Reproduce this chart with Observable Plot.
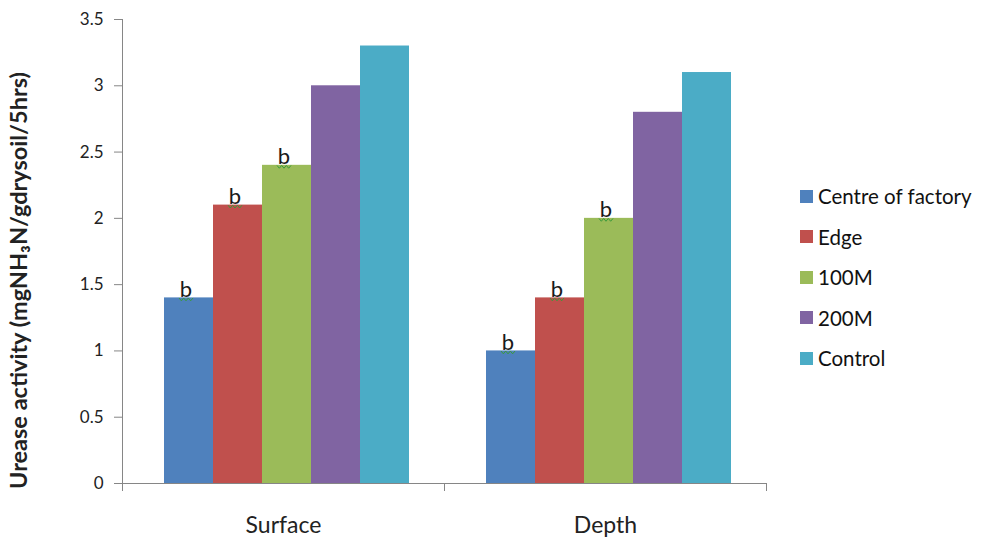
<!DOCTYPE html>
<html>
<head>
<meta charset="utf-8">
<script src="https://cdn.jsdelivr.net/npm/d3@7"></script>
<script src="https://cdn.jsdelivr.net/npm/@observablehq/plot@0.6"></script>
<style>
  body { margin: 0; background: #fff; font-family: Lato, sans-serif; }
  #wrap { position: relative; width: 981px; height: 540px; }
  #legend { position: absolute; left: 800px; top: 176px; font-size: 20.5px; color: #111; }
  #legend .item { height: 40.5px; display: flex; align-items: center; white-space: nowrap; }
  #legend .sw { width: 13px; height: 13px; margin-right: 5px; }
  g[aria-label="y-axis label"] { font-weight: bold; font-size: 23.5px; }
</style>
</head>
<body>
<div id="wrap"><div id="legend"></div></div>
<script>
const groups = ["Surface", "Depth"];
const series = ["Centre of factory", "Edge", "100M", "200M", "Control"];
const surfaceValues = [1.4, 2.1, 2.4, 3.0, 3.3];
const depthValues = [1.0, 1.4, 2.0, 2.8, 3.1];
const surfaceLetters = ["b", "b", "b", "", ""];
const depthLetters = ["b", "b", "b", "", ""];
const colors = ["#4F81BD", "#C0504D", "#9BBB59", "#8064A2", "#4BACC6"];
const yTicks = [0, 0.5, 1, 1.5, 2, 2.5, 3, 3.5];
const yLabel = "Urease activity (mgNH₃N/gdrysoil/5hrs)";

const table = [];
series.forEach((s, i) => table.push({group: "Surface", series: s, value: surfaceValues[i], letter: surfaceLetters[i]}));
series.forEach((s, i) => table.push({group: "Depth", series: s, value: depthValues[i], letter: depthLetters[i]}));
const lettered = table.filter(d => d.letter);

const axisGray = "#868686";

// small wavy "spell-check" squiggle drawn as a custom dot symbol
const squiggle = {
  draw(context, size) {
    const r = Math.sqrt(size / Math.PI);
    const n = 6, a = r * 0.2;
    context.moveTo(-r, -a);
    for (let i = 1; i <= n; ++i) context.lineTo(-r + (2 * r * i) / n, i % 2 ? a : -a);
  }
};

const chart = Plot.plot({
  width: 775,
  height: 540,
  marginLeft: 122,
  marginRight: 9,
  marginTop: 19,
  marginBottom: 57,
  style: {fontFamily: "Lato, sans-serif", background: "white", color: "#111"},
  fx: {domain: groups, padding: 0, label: null},
  x: {domain: series, paddingInner: 0, paddingOuter: 0.75, align: 0.54, axis: null},
  y: {domain: [0, 3.5], axis: null},
  color: {domain: series, range: colors},
  marks: [
    Plot.barY(table, {fx: "group", x: "series", y: "value", fill: "series"}),
    Plot.ruleY([0], {stroke: axisGray}),
    Plot.text(lettered, {
      fx: "group", x: "series", y: "value", text: "letter",
      lineAnchor: "bottom", dy: -1, dx: -3, fontSize: 22, fill: "#1a1a1a"
    }),
    Plot.dot(lettered, {
      fx: "group", x: "series", y: "value", symbol: squiggle, r: 7,
      dy: 1.5, dx: -3, fill: "none", stroke: "#3a9a3a", strokeWidth: 1
    }),
    Plot.axisY({
      ticks: yTicks, tickFormat: d => String(d), tickSize: 8, tickPadding: 11, fontSize: 17,
      stroke: axisGray, fill: "#222",
      label: yLabel, labelAnchor: "center", labelArrow: "none", labelOffset: 112
    }),
    Plot.axisFx({anchor: "bottom", tickSize: 0, tickPadding: 33, fontSize: 23, fill: "#222", label: null})
  ]
});

document.getElementById("wrap").prepend(chart);
chart.style.position = "absolute";
chart.style.left = "0";
chart.style.top = "0";

// shift the y-axis title down a little, as in the reference
const lab = d3.select(chart).select('g[aria-label="y-axis label"]');
lab.attr("transform", ((lab.attr("transform") || "") + " translate(0,29)").trim());

// axis line and category boundary ticks, placed from the plot's own scales
const fx = chart.scale("fx");
const y = chart.scale("y");
const g = d3.select(chart).append("g").attr("stroke", axisGray).attr("stroke-width", 1);
const x0 = fx.apply(groups[0]);
g.append("line").attr("x1", x0 + 0.5).attr("x2", x0 + 0.5)
  .attr("y1", y.apply(yTicks[yTicks.length - 1])).attr("y2", y.apply(0) + 8);
const edges = groups.map(d => fx.apply(d)).concat([fx.apply(groups[groups.length - 1]) + fx.bandwidth]);
edges.forEach(e => {
  g.append("line").attr("x1", e + 0.5).attr("x2", e + 0.5)
    .attr("y1", y.apply(0)).attr("y2", y.apply(0) + 8);
});

// legend
const legend = d3.select("#legend");
series.forEach((s, i) => {
  const item = legend.append("div").attr("class", "item");
  item.append("div").attr("class", "sw").style("background", colors[i]);
  item.append("span").text(s);
});
</script>
</body>
</html>
